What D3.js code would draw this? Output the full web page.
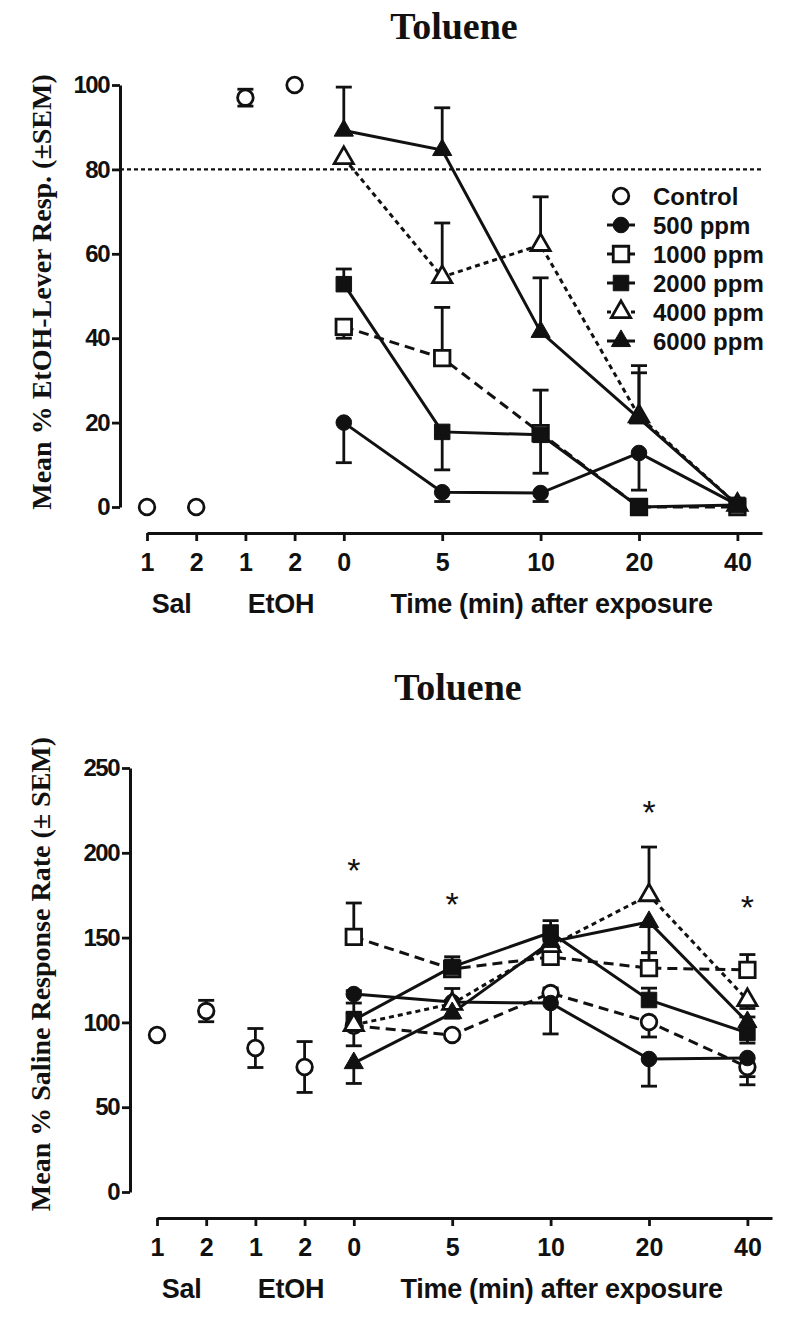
<!DOCTYPE html>
<html><head><meta charset="utf-8">
<script src="https://cdn.jsdelivr.net/npm/d3@7"></script>
<style>body{margin:0;background:#fff} svg{display:block}</style>
</head><body>
<svg id="chart" width="792" height="1324"></svg>
<script>
// ---------------- DATA ----------------
const categoryKeys = ["Sal 1","Sal 2","EtOH 1","EtOH 2","0","5","10","20","40"];
const tickLabels   = ["1","2","1","2","0","5","10","20","40"];
const baselineKeys = ["Sal 1","Sal 2","EtOH 1","EtOH 2"];
const timeKeys     = ["0","5","10","20","40"];
const groupLabels  = ["Sal","EtOH","Time (min) after exposure"];
const seriesNames  = ["Control","500 ppm","1000 ppm","2000 ppm","4000 ppm","6000 ppm"];
const chartTitle   = "Toluene";

// Top panel: Mean % EtOH-lever responding
const topYTicks = [0,20,40,60,80,100];
const topCriterion = 80;
const topControlBase    = [0, 0, 97, 100];
const topControlBaseErr = [0, 0, 2, 0];
const top500  = [20, 3.5, 3.3, 12.8, 0.5];
const top1000 = [42.7, 35.3, 17.5, 0, 0];
const top2000 = [52.8, 17.8, 17.1, 0, 0.5];
const top4000 = [82.7, 54.5, 62.1, 21.5, 0.5];
const top6000 = [89.2, 84.6, 41.5, 21, 0.5];
// signed SEM: + drawn up, - drawn down
const top500Err  = [-9.5, -2.2, -2, -8.8, 0];
const top1000Err = [-2.7, 12, 10.2, 0, 0];
const top2000Err = [3.6, -9, -9.1, 0, 0];
const top4000Err = [0, 12.8, 11.4, 12, 0];
const top6000Err = [10.3, 10, 12.8, 10.8, 0];

// Bottom panel: Mean % saline response rate
const botYTicks = [0,50,100,150,200,250];
const botControlBase    = [92.6, 106.7, 84.9, 73.7];
const botControlBaseErr = [0, 6.3, 11.5, 15];
const botControl = [98, 92.6, 117.3, 100.2, 73.7];
const bot500  = [116.7, 112, 111.4, 78.4, 79];
const bot1000 = [150.4, 131.5, 138.6, 132, 131];
const bot2000 = [101.4, 132.7, 153, 113.2, 93.8];
const bot4000 = [98.5, 111, 145, 175, 113.2];
const bot6000 = [76, 105.5, 147.5, 159.2, 100.2];
const botControlErr = [-11.8, 2, 3, -8.8, -10.5];
const bot500Err  = [2, 8, -18.2, -16, -11];
const bot1000Err = [20, 2, 4, 9, 9];
const bot2000Err = [10, 6, 7, 7, -6];
const bot4000Err = [7.5, 2, 3, 28.4, -5];
const bot6000Err = [-12, -3, 3, -18, 3];
const asteriskKeys   = ["0","5","20","40"];
const asteriskValues = [194, 174, 228, 172];

// ---------------- DRAWING ----------------
const svg = d3.select("#chart");
const SANS = "'Liberation Sans', Arial, sans-serif";
const SERIF = "'Liberation Serif', 'Times New Roman', serif";

// slot index: baseline points 1 unit apart, time points 2 units apart
const slot = k => { const i = categoryKeys.indexOf(k); return i < 4 ? i : 4 + 2*(i-4); };

const styles = {
  "Control":  {shape:"circle",   fill:false, dash:"10,6"},
  "500 ppm":  {shape:"circle",   fill:true,  dash:null},
  "1000 ppm": {shape:"square",   fill:false, dash:"10,6"},
  "2000 ppm": {shape:"square",   fill:true,  dash:null},
  "4000 ppm": {shape:"triangle", fill:false, dash:"5,4"},
  "6000 ppm": {shape:"triangle", fill:true,  dash:null}
};
const symType = {circle:d3.symbolCircle, square:d3.symbolSquare, triangle:d3.symbolTriangle};
const symSize = {circle:Math.PI*7.8*7.8, square:15.5*15.5, triangle:160};

function marker(g, name, x, y){
  const st = styles[name];
  g.append("path")
    .attr("d", d3.symbol().type(symType[st.shape]).size(symSize[st.shape])())
    .attr("transform", `translate(${x},${y})`)
    .attr("fill", st.fill ? "#111" : "#fff")
    .attr("stroke", "#111").attr("stroke-width", st.fill ? 1 : 2.8);
}

function panel(cfg){
  const g = svg.append("g");
  const x = d3.scaleLinear().domain([0, 12.5]).range(cfg.xRange);
  const y = d3.scaleLinear().domain(cfg.yDomain).range(cfg.yRange);

  // title
  g.append("text").attr("x", cfg.titleX).attr("y", cfg.titleY)
    .attr("text-anchor","middle").attr("font-family",SERIF).attr("font-weight","bold")
    .attr("font-size",38).attr("fill","#111").text(chartTitle);

  // y axis
  const yAx = g.append("g").attr("transform",`translate(${cfg.yAxisX},0)`)
    .call(d3.axisLeft(y).tickValues(cfg.yTicks).tickSize(8).tickSizeOuter(0).tickPadding(3));
  yAx.select(".domain").attr("stroke","#111").attr("stroke-width",3);
  yAx.selectAll(".tick line").attr("stroke","#111").attr("stroke-width",2.8);
  yAx.selectAll(".tick text").attr("font-family",SANS).attr("font-weight","bold")
    .attr("font-size",24).attr("letter-spacing","-1.5px").attr("fill","#111");

  // x axis
  const xAx = g.append("g").attr("transform",`translate(0,${cfg.xAxisY})`)
    .call(d3.axisBottom(x).tickValues(categoryKeys.map(slot))
      .tickFormat((d,i)=>tickLabels[i]).tickSize(8).tickSizeOuter(0).tickPadding(12));
  xAx.select(".domain").attr("stroke","#111").attr("stroke-width",3);
  xAx.selectAll(".tick line").attr("stroke","#111").attr("stroke-width",2.8);
  xAx.selectAll(".tick text").attr("font-family",SANS).attr("font-weight","bold")
    .attr("font-size",25).attr("fill","#111");

  // group labels
  const gx = [ (x(slot("Sal 1"))+x(slot("Sal 2")))/2,
               (x(slot("EtOH 1"))+x(slot("EtOH 2")))/2 + 11,
               (x(slot("0"))+x(slot("40")))/2 + 11 ];
  groupLabels.forEach((t,i)=>{
    g.append("text").attr("x",gx[i]).attr("y",cfg.xAxisY+80).attr("text-anchor","middle")
      .attr("font-family",SANS).attr("font-weight","bold").attr("font-size",27)
      .attr("letter-spacing","-0.3px").attr("fill","#111").text(t);
  });

  // y title
  g.append("text").attr("transform",`translate(${cfg.yTitleX},${cfg.yTitleY}) rotate(-90)`)
    .attr("text-anchor","middle").attr("font-family",SERIF).attr("font-weight","bold")
    .attr("font-size",28).attr("fill","#111").text(cfg.yTitle);

  // criterion line
  if (cfg.criterion != null) {
    g.append("line").attr("x1",cfg.yAxisX).attr("x2",cfg.xRange[1])
      .attr("y1",y(cfg.criterion)).attr("y2",y(cfg.criterion))
      .attr("stroke","#111").attr("stroke-width",2.2).attr("stroke-dasharray","4,3");
  }

  // lines
  cfg.series.forEach(s=>{
    const st = styles[s.name];
    const line = d3.line().x((d,i)=>x(slot(timeKeys[i]))).y(d=>y(d));
    g.append("path").attr("d", line(s.values)).attr("fill","none")
      .attr("stroke","#111").attr("stroke-width",3)
      .attr("stroke-dasharray", st.dash);
  });

  // error bars
  const cap = 8;
  function errBar(px, v0, v1){
    const y0 = y(v0), y1 = y(v1);
    g.append("line").attr("x1",px).attr("x2",px).attr("y1",y0).attr("y2",y1)
      .attr("stroke","#111").attr("stroke-width",2.8);
    g.append("line").attr("x1",px-cap).attr("x2",px+cap).attr("y1",y1).attr("y2",y1)
      .attr("stroke","#111").attr("stroke-width",2.8);
  }
  cfg.base.values.forEach((v,i)=>{
    const e = cfg.base.err[i];
    if (e) { const px = x(slot(baselineKeys[i])); errBar(px, v, v+e); errBar(px, v, v-e); }
  });
  cfg.series.forEach(s=>{
    s.values.forEach((v,i)=>{
      const e = s.err[i];
      if (e) errBar(x(slot(timeKeys[i])), v, v+e);
    });
  });

  // markers
  cfg.base.values.forEach((v,i)=> marker(g, "Control", x(slot(baselineKeys[i])), y(v)));
  cfg.series.forEach(s=> s.values.forEach((v,i)=> marker(g, s.name, x(slot(timeKeys[i])), y(v))));

  // asterisks
  if (cfg.asterisks) {
    cfg.asterisks.keys.forEach((k,i)=>{
      g.append("text").attr("x", x(slot(k))).attr("y", y(cfg.asterisks.values[i]) + 19)
        .attr("text-anchor","middle").attr("font-family",SANS).attr("font-size",34)
        .attr("fill","#111").text("*");
    });
  }

  // legend
  if (cfg.legend) {
    seriesNames.forEach((name,i)=>{
      const cy = cfg.legend.y0 + i*29, cx = cfg.legend.x;
      const st = styles[name];
      if (name !== "Control") {
        g.append("line").attr("x1",cx-14).attr("x2",cx+14).attr("y1",cy).attr("y2",cy)
          .attr("stroke","#111").attr("stroke-width",3)
          .attr("stroke-dasharray", st.dash ? (st.dash==="5,4" ? "4,4" : "6,16") : null);
      }
      marker(g, name, cx, cy);
      g.append("text").attr("x",cx+32).attr("y",cy+8.5).attr("font-family",SANS)
        .attr("font-weight","bold").attr("font-size",24).attr("fill","#111").text(name);
    });
  }
}

panel({
  xRange:[147,762], yDomain:[0,100], yRange:[507,85], yTicks:topYTicks,
  yAxisX:120, xAxisY:533, titleX:454, titleY:39, yTitleX:51, yTitleY:292,
  yTitle:"Mean % EtOH-Lever Resp. (\u00B1SEM)", criterion:topCriterion,
  base:{values:topControlBase, err:topControlBaseErr},
  series:[
    {name:"500 ppm",  values:top500,  err:top500Err},
    {name:"1000 ppm", values:top1000, err:top1000Err},
    {name:"2000 ppm", values:top2000, err:top2000Err},
    {name:"4000 ppm", values:top4000, err:top4000Err},
    {name:"6000 ppm", values:top6000, err:top6000Err}
  ],
  legend:{x:621, y0:196}
});

panel({
  xRange:[157,772], yDomain:[0,250], yRange:[1192,768], yTicks:botYTicks,
  yAxisX:130, xAxisY:1218, titleX:458, titleY:700, yTitleX:50, yTitleY:974,
  yTitle:"Mean % Saline Response Rate (\u00B1 SEM)", criterion:null,
  base:{values:botControlBase, err:botControlBaseErr},
  series:[
    {name:"Control",  values:botControl, err:botControlErr},
    {name:"500 ppm",  values:bot500,  err:bot500Err},
    {name:"1000 ppm", values:bot1000, err:bot1000Err},
    {name:"2000 ppm", values:bot2000, err:bot2000Err},
    {name:"4000 ppm", values:bot4000, err:bot4000Err},
    {name:"6000 ppm", values:bot6000, err:bot6000Err}
  ],
  asterisks:{keys:asteriskKeys, values:asteriskValues}
});
</script>
</body></html>
